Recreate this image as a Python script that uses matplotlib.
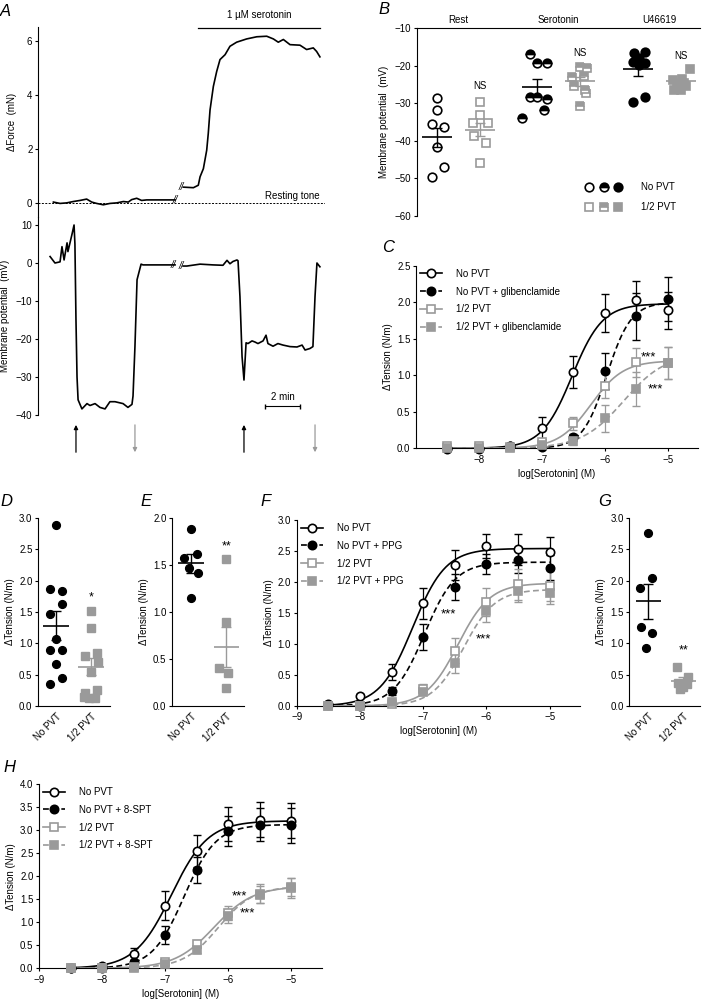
import numpy as np
import matplotlib
matplotlib.use('Agg')
import matplotlib.pyplot as plt
from matplotlib.lines import Line2D

plt.rcParams['font.family'] = ['Liberation Sans', 'DejaVu Sans']
plt.rcParams['font.size'] = 7
plt.rcParams['axes.linewidth'] = 0.8
plt.rcParams['xtick.major.width'] = 0.8
plt.rcParams['ytick.major.width'] = 0.8
plt.rcParams['xtick.major.size'] = 2.5
plt.rcParams['ytick.major.size'] = 2.5
plt.rcParams['xtick.labelsize'] = 7
plt.rcParams['ytick.labelsize'] = 7
plt.rcParams['axes.labelsize'] = 7
plt.rcParams['xtick.major.pad'] = 2
plt.rcParams['ytick.major.pad'] = 1.5

GRAY = '#9a9a9a'
W, H = 702, 1001

# ---------------- Panel A data ----------------
force_t1 = [0.88, 1.26, 1.64, 2.02, 2.40, 2.78, 3.07, 3.35, 3.73, 4.11, 4.50, 4.88, 5.16, 5.35, 5.64, 5.92, 6.21, 7.83]
force_v1 = [0.05, 0.00, 0.02, 0.07, 0.11, 0.16, 0.05, 0.00, -0.05, 0.00, 0.02, 0.07, 0.05, 0.14, 0.19, 0.11, 0.13, 0.13]
force_t2 = [8.30, 8.88, 9.16, 9.26, 9.45, 9.64, 9.73, 9.83, 10.02, 10.21, 10.40, 10.69, 10.97, 11.35, 11.92, 12.50, 13.07,
            13.45, 13.73, 14.02, 14.40, 14.97, 15.35, 15.73, 15.92, 16.11]
force_v2 = [0.60, 0.58, 0.67, 0.98, 1.28, 1.96, 2.58, 3.44, 4.31, 4.86, 5.30, 5.48, 5.79, 5.94, 6.06, 6.14, 6.16,
            6.06, 5.94, 6.04, 5.85, 5.83, 5.67, 5.73, 5.60, 5.40]
mem_t1 = [0.69, 0.97, 1.26, 1.37, 1.49, 1.66, 1.71, 1.94, 2.06, 2.11, 2.17, 2.23, 2.29, 2.51, 2.80, 2.97, 3.26, 3.54, 3.83, 4.11,
          4.40, 4.86, 5.14, 5.37, 5.43, 5.54, 5.66, 5.89, 6.00, 7.83]
mem_v1 = [1.7, 0.0, 0.3, 4.3, 0.8, 5.3, 3.0, 7.5, 10.0, 5.0, -15, -30, -36, -38.4, -37, -37.5, -37, -38, -38.4, -36.5,
          -36.5, -37, -38, -37.2, -35, -22, -4.4, -0.3, -0.5, -0.5]
mem_t2 = [8.29, 8.51, 9.26, 10.0, 10.57, 10.8, 10.97, 11.14, 11.37, 11.43, 11.54, 11.66, 11.77, 11.89, 12.0, 12.23, 12.4, 12.57,
          12.86, 13.03, 13.14, 13.43, 13.71, 14.0, 14.4, 14.8, 15.09, 15.26, 15.54, 15.71, 15.83, 15.94, 16.11]
mem_v2 = [-0.8, -0.8, -0.3, -0.5, -0.6, 0.7, -0.2, 0.4, 0.8, 0.6, -8.8, -24.6, -30.8, -21, -21.2, -20.5, -20.8, -21.2,
          -20.5, -19, -21.2, -21.9, -21.2, -21.6, -22, -22.1, -21.6, -22.9, -22.5, -22, -8.8, 0, -1]
serotonin_on = [9.14, 16.11]
arrows_up = [2.17, 11.77]
arrows_down = [5.54, 15.83]

# ---------------- Panel B data ----------------
b_groups = ['Rest', 'Serotonin', 'U46619']
rest_np = [-28.5, -31.8, -35.5, -36.4, -41.6, -46.9, -49.5]
rest_np_dx = [0, 0, -0.13, 0.16, 0, 0.16, -0.13]
rest_half = [-29.6, -33.1, -35.2, -35.2, -38.7, -40.7, -45.8]
rest_half_dx = [0, 0, -0.17, 0.19, -0.15, 0.14, 0]
sero_np = [-16.9, -19.4, -19.4, -28.3, -28.3, -28.9, -31.9, -34.0]
sero_np_dx = [-0.18, 0, 0.23, -0.18, 0, 0.23, 0.16, -0.35]
sero_half = [-20.3, -20.7, -22.9, -22.8, -25.4, -26.5, -27.4, -30.7]
sero_half_dx = [0, 0.16, -0.19, 0.08, -0.14, 0.12, 0.14, 0]
u_np = [-16.7, -16.3, -18.1, -19.0, -19.2, -19.8, -29.6, -28.4]
u_np_dx = [-0.08, 0.18, 0.02, -0.12, 0.16, 0.02, -0.1, 0.18]
u_half = [-21.0, -23.8, -23.6, -25.2, -25.4, -26.5, -26.5, -24.6]
u_half_dx = [0.21, -0.19, 0.04, -0.08, 0.12, 0, -0.16, 0.08]
b_means = [-39.1, -37.0, -25.8, -24.1, -21.0, -24.2]
b_sems = [2.5, 1.8, 2.2, 1.2, 1.7, 0.7]

# ---------------- Concentration-response data ----------------
conc = [-8.5, -8, -7.5, -7, -6.5, -6, -5.5, -5]
c_np = [0.0, 0.0, 0.03, 0.28, 1.04, 1.85, 2.03, 1.89]
c_np_err = [0.01, 0.01, 0.02, 0.15, 0.22, 0.26, 0.26, 0.25]
c_npg = [-0.01, -0.01, 0.03, 0.02, 0.15, 1.06, 1.81, 2.04]
c_npg_err = [0.01, 0.01, 0.01, 0.02, 0.05, 0.25, 0.32, 0.30]
c_half = [0.03, 0.03, 0.02, 0.08, 0.34, 0.86, 1.18, 1.17]
c_half_err = [0.01, 0.01, 0.01, 0.03, 0.09, 0.17, 0.20, 0.22]
c_halfg = [0.0, 0.0, 0.0, 0.04, 0.10, 0.41, 0.81, 1.17]
c_halfg_err = [0.01, 0.01, 0.01, 0.02, 0.05, 0.18, 0.23, 0.22]
c_fits = [(1.98, -6.52, 1.8), (2.0, -5.97, 2.25), (1.2, -6.22, 1.69), (1.3, -5.7, 1.3)]

f_np = [0.04, 0.16, 0.55, 1.66, 2.27, 2.58, 2.53, 2.48]
f_np_err = [0.02, 0.03, 0.13, 0.25, 0.24, 0.20, 0.25, 0.25]
f_npg = [0.02, 0.0, 0.24, 1.11, 1.92, 2.29, 2.35, 2.23]
f_npg_err = [0.01, 0.01, 0.06, 0.21, 0.21, 0.16, 0.20, 0.20]
f_half = [0.0, 0.0, 0.03, 0.28, 0.89, 1.68, 1.96, 1.94]
f_half_err = [0.01, 0.01, 0.02, 0.07, 0.20, 0.23, 0.25, 0.25]
f_halfg = [0.0, 0.0, 0.06, 0.23, 0.69, 1.53, 1.85, 1.82]
f_halfg_err = [0.01, 0.01, 0.02, 0.06, 0.16, 0.18, 0.18, 0.17]
f_fits = [(2.54, -7.165, 1.67), (2.32, -6.98, 1.78), (1.98, -6.45, 1.71), (1.88, -6.36, 1.75)]

h_np = [0.0, 0.05, 0.31, 1.36, 2.55, 3.13, 3.22, 3.20]
h_np_err = [0.01, 0.02, 0.12, 0.32, 0.35, 0.36, 0.38, 0.38]
h_nps = [0.0, 0.0, 0.14, 0.72, 2.13, 2.98, 3.12, 3.10]
h_nps_err = [0.01, 0.01, 0.04, 0.20, 0.28, 0.33, 0.35, 0.38]
h_half = [0.0, 0.0, 0.02, 0.14, 0.53, 1.20, 1.62, 1.75]
h_half_err = [0.01, 0.01, 0.01, 0.04, 0.08, 0.15, 0.20, 0.22]
h_halfs = [0.0, 0.0, 0.0, 0.10, 0.40, 1.13, 1.60, 1.76]
h_halfs_err = [0.01, 0.01, 0.01, 0.03, 0.07, 0.15, 0.18, 0.20]
h_fits = [(3.2, -6.9, 1.5), (3.12, -6.70, 1.72), (1.78, -6.226, 1.4), (1.78, -6.155, 1.56)]

# ---------------- Dot plot data (D, E, G) ----------------
cats = ['No PVT', '1/2 PVT']
d_np = [2.89, 1.87, 1.84, 1.63, 1.47, 1.07, 0.89, 0.89, 0.67, 0.35, 0.44]
d_np_dx = [0, -0.17, 0.16, 0.16, -0.17, 0, -0.17, 0.16, 0, -0.17, 0.16]
d_half = [1.51, 1.24, 0.79, 0.85, 0.70, 0.55, 0.26, 0.20, 0.13, 0.12, 0.15]
d_half_dx = [0, 0, -0.17, 0.16, 0.19, 0, 0.16, -0.17, -0.05, 0.12, -0.2]
d_means = [1.28, 0.63]
d_sems = [0.23, 0.13]
e_np = [1.88, 1.62, 1.57, 1.47, 1.42, 1.15]
e_np_dx = [0, 0.17, -0.2, -0.05, 0.2, 0]
e_half = [1.56, 0.89, 0.40, 0.35, 0.19]
e_half_dx = [0, 0, -0.2, 0.05, 0]
e_means = [1.52, 0.63]
e_sems = [0.10, 0.21]
g_np = [2.76, 2.05, 1.88, 1.26, 1.16, 0.92]
g_np_dx = [0, 0.11, -0.22, -0.21, 0.11, -0.05]
g_half = [0.62, 0.47, 0.37, 0.35, 0.30, 0.27]
g_half_dx = [-0.19, 0.13, -0.15, 0.1, 0, -0.08]
g_means = [1.67, 0.40]
g_sems = [0.28, 0.06]

fig = plt.figure(figsize=(W / 100, H / 100), dpi=100)


def add_ax(l, t, r, b):
    ax = fig.add_axes([l / W, 1 - b / H, (r - l) / W, (b - t) / H])
    ax.patch.set_alpha(0)
    return ax


def plabel(x, y, s):
    fig.text(x / W, 1 - y / H, s, style='italic', fontsize=12, ha='left', va='center')


def fmt_ticks(vals, pattern):
    return [(pattern % v).replace('-', '\u2212') for v in vals]


def hill(x, top, ec50, h):
    return top / (1 + 10 ** ((ec50 - x) * h))


# ---------------- Panel A ----------------
axf = add_ax(38, 27, 325, 217)
axf.plot(force_t1, force_v1, color='black', lw=1.2)
axf.plot(force_t2, force_v2, color='black', lw=1.2)
axf.axhline(0, color='black', lw=0.7, ls=(0, (2, 1.5)))
axf.set_xlim(0, 16.4)
axf.set_ylim(-0.5, 6.5)
axf.set_yticks([0, 2, 4, 6])
axf.set_xticks([])
for s in ['top', 'right', 'bottom']:
    axf.spines[s].set_visible(False)
axf.set_ylabel('\u0394Force  (mN)')
axf.yaxis.set_label_coords(-0.072, 0.5)
axf.plot(serotonin_on, [6.48, 6.48], color='black', lw=0.9, clip_on=False)
axf.text(np.mean(serotonin_on), 6.75, '1 \u00b5M serotonin', ha='center', va='bottom', fontsize=7)
axf.text(16.11, 0.1, 'Resting tone', ha='right', va='bottom', fontsize=7)
axf.text(7.85, 0.13, '//', ha='center', va='center', fontsize=7, style='italic')
axf.text(8.2, 0.6, '//', ha='center', va='center', fontsize=7, style='italic')

axm = add_ax(38, 217.4, 325, 453)
axm.plot(mem_t1, mem_v1, color='black', lw=1.2)
axm.plot(mem_t2, mem_v2, color='black', lw=1.2)
axm.set_xlim(0, 16.4)
axm.set_ylim(-50, 12)
axm.set_yticks([10, 0, -10, -20, -30, -40])
axm.set_xticks([])
axm.spines['left'].set_bounds(-40, 12)
for s in ['top', 'right', 'bottom']:
    axm.spines[s].set_visible(False)
axm.set_ylabel('Membrane potential  (mV)')
axm.yaxis.set_label_coords(-0.098, 0.58)
axm.text(7.75, -0.5, '//', ha='center', va='center', fontsize=7, style='italic')
axm.text(8.2, -0.8, '//', ha='center', va='center', fontsize=7, style='italic')
for t in arrows_up:
    axm.annotate('', xy=(t, -42.6), xytext=(t, -49.8),
                 arrowprops=dict(arrowstyle='-|>', color='black', lw=0.9, mutation_scale=6, shrinkA=0, shrinkB=0))
for t in arrows_down:
    axm.annotate('', xy=(t, -49.8), xytext=(t, -42.6),
                 arrowprops=dict(arrowstyle='-|>', color=GRAY, lw=0.9, mutation_scale=6, shrinkA=0, shrinkB=0))
axm.errorbar([13.97], [-37.6], xerr=[[1.0], [1.0]], fmt='none', ecolor='black', elinewidth=0.8, capsize=1.8)
axm.text(13.97, -36.6, '2 min', ha='center', va='bottom', fontsize=7)

# ---------------- Panel B ----------------
axb = add_ax(417, 28, 700, 216)
bpos = [0, 1, 2.33, 3.33, 4.67, 5.67]
b_sets = [
    (rest_np, rest_np_dx, 'o', 'white', 'black', 'full', 'white'),
    (rest_half, rest_half_dx, 's', 'white', GRAY, 'full', 'white'),
    (sero_np, sero_np_dx, 'o', 'black', 'black', 'top', 'white'),
    (sero_half, sero_half_dx, 's', GRAY, GRAY, 'top', 'white'),
    (u_np, u_np_dx, 'o', 'black', 'black', 'full', 'black'),
    (u_half, u_half_dx, 's', GRAY, GRAY, 'full', GRAY),
]
for i, (vals, dx, mk, fc, ec, fs, alt) in enumerate(b_sets):
    xs = bpos[i] + np.array(dx)
    axb.plot(xs, vals, ls='none', marker=mk, ms=6.2 if mk == 'o' else 5.6, mfc=fc, mec=ec, mew=1.2,
             fillstyle=fs, markerfacecoloralt=alt, zorder=3)
    axb.hlines(b_means[i], bpos[i] - 0.35, bpos[i] + 0.35, color=ec, lw=1.2, zorder=4)
    axb.errorbar(bpos[i], b_means[i], yerr=b_sems[i], fmt='none', ecolor=ec, elinewidth=1, capsize=3.5, zorder=4)
axb.set_xlim(-0.47, 6.12)
axb.set_ylim(-60, -10)
bt = [-10, -20, -30, -40, -50, -60]
axb.set_yticks(bt)
axb.set_yticklabels(fmt_ticks(bt, '%d'))
axb.set_xticks([])
for s in ['right', 'bottom']:
    axb.spines[s].set_visible(False)
axb.set_ylabel('Membrane potential  (mV)', labelpad=4)
for gi, name in enumerate(b_groups):
    xc = (bpos[2 * gi] + bpos[2 * gi + 1]) / 2
    axb.text(xc, -7.9, name, ha='center', va='center', fontsize=7, clip_on=False)
axb.text(bpos[1], -25.4, 'NS', ha='center', va='center', fontsize=7)
axb.text(bpos[3], -16.6, 'NS', ha='center', va='center', fontsize=7)
axb.text(bpos[5], -17.4, 'NS', ha='center', va='center', fontsize=7)
# legend of panel B
leg_rows = [('o', 'black', 'No PVT', 187), ('s', GRAY, '1/2 PVT', 207)]
for mk, col, lab, yp in leg_rows:
    specs = [('white', 'full', 'white'), (col, 'top', 'white'), (col, 'full', col)]
    for xp, (fc, fs, alt) in zip([589, 604, 618], specs):
        fig.add_artist(Line2D([xp / W], [1 - yp / H], ls='none', marker=mk, ms=6.2 if mk == 'o' else 5.6,
                              mfc=fc, mec=col, mew=1.2, fillstyle=fs, markerfacecoloralt=alt))
    fig.text(641 / W, 1 - yp / H, lab, ha='left', va='center', fontsize=7)


# ---------------- Concentration-response helper ----------------
def crc_panel(ax, series, fits, labels, ylim, yticks, xticks, stars):
    styles = [
        dict(marker='o', mfc='white', mec='black', color='black', ls='-'),
        dict(marker='o', mfc='black', mec='black', color='black', ls=(0, (3.5, 2))),
        dict(marker='s', mfc='white', mec=GRAY, color=GRAY, ls='-'),
        dict(marker='s', mfc=GRAY, mec=GRAY, color=GRAY, ls=(0, (3.5, 2))),
    ]
    xs = np.linspace(-8.5, -5, 300)
    handles = []
    order = [3, 2, 1, 0]
    for i in order:
        vals, errs = series[i]
        st = styles[i]
        top, ec50, hh = fits[i]
        ax.plot(xs, hill(xs, top, ec50, hh), color=st['color'], ls=st['ls'], lw=1.2, zorder=2 + i * 0.1)
        ax.errorbar(conc, vals, yerr=errs, fmt='none', ecolor=st['color'], elinewidth=0.9, capsize=3,
                    zorder=3 + i * 0.1, clip_on=False)
        ax.plot(conc, vals, ls='none', marker=st['marker'], ms=6 if st['marker'] == 'o' else 5.5,
                mfc=st['mfc'], mec=st['mec'], mew=1.2, zorder=4 + i * 0.1, clip_on=False)
    for i in range(4):
        st = styles[i]
        handles.append(Line2D([], [], color=st['color'], ls=st['ls'], lw=1.2, marker=st['marker'],
                              ms=6 if st['marker'] == 'o' else 5.5, mfc=st['mfc'], mec=st['mec'], mew=1.2))
    ax.legend(handles, labels, loc='upper left', bbox_to_anchor=(0.0, 1.005), frameon=False, fontsize=7,
              handlelength=2.3, handletextpad=1.4, labelspacing=0.8, borderaxespad=0)
    ax.set_xlim(-9, -4.52)
    ax.set_ylim(*ylim)
    ax.set_yticks(yticks)
    ax.set_yticklabels(fmt_ticks(yticks, '%.1f'))
    ax.set_xticks(xticks)
    ax.set_xticklabels(fmt_ticks(xticks, '%d'))
    for s in ['top', 'right']:
        ax.spines[s].set_visible(False)
    ax.set_ylabel('\u0394Tension (N/m)', labelpad=3)
    ax.set_xlabel('log[Serotonin] (M)', labelpad=3)
    for (sx, sy) in stars:
        ax.text(sx, sy, '***', ha='center', va='center', fontsize=9.5)


axc = add_ax(416, 265.8, 698, 448.3)
crc_panel(axc, [(c_np, c_np_err), (c_npg, c_npg_err), (c_half, c_half_err), (c_halfg, c_halfg_err)], c_fits,
          ['No PVT', 'No PVT + glibenclamide', '1/2 PVT', '1/2 PVT + glibenclamide'],
          (0, 2.5), [0, 0.5, 1.0, 1.5, 2.0, 2.5], [-8, -7, -6, -5], [(-5.3, 1.25), (-5.2, 0.8)])

axf2 = add_ax(296.7, 520, 580, 706)
crc_panel(axf2, [(f_np, f_np_err), (f_npg, f_npg_err), (f_half, f_half_err), (f_halfg, f_halfg_err)], f_fits,
          ['No PVT', 'No PVT + PPG', '1/2 PVT', '1/2 PVT + PPG'],
          (0, 3.0), [0, 0.5, 1.0, 1.5, 2.0, 2.5, 3.0], [-9, -8, -7, -6, -5], [(-6.6, 1.48), (-6.04, 1.08)])

axh = add_ax(39, 784, 321.7, 968.3)
crc_panel(axh, [(h_np, h_np_err), (h_nps, h_nps_err), (h_half, h_half_err), (h_halfs, h_halfs_err)], h_fits,
          ['No PVT', 'No PVT + 8-SPT', '1/2 PVT', '1/2 PVT + 8-SPT'],
          (0, 4.0), [0, 0.5, 1.0, 1.5, 2.0, 2.5, 3.0, 3.5, 4.0], [-9, -8, -7, -6, -5], [(-5.83, 1.55), (-5.69, 1.19)])


# ---------------- Dot plot helper ----------------
def dot_panel(ax, np_vals, np_dx, half_vals, half_dx, means, sems, ylim, yticks, star, star_y, xlim):
    ax.plot(0 + np.array(np_dx), np_vals, ls='none', marker='o', ms=5.6, mfc='black', mec='black', zorder=3,
            clip_on=False)
    ax.plot(1 + np.array(half_dx), half_vals, ls='none', marker='s', ms=5.2, mfc=GRAY, mec=GRAY, zorder=3,
            clip_on=False)
    for i, col in enumerate(['black', GRAY]):
        ax.hlines(means[i], i - 0.36, i + 0.36, color=col, lw=1.2, zorder=4)
        ax.errorbar(i, means[i], yerr=sems[i], fmt='none', ecolor=col, elinewidth=1, capsize=3.5, zorder=4)
    ax.text(1, star_y, star, ha='center', va='center', fontsize=9)
    ax.set_xlim(*xlim)
    ax.set_ylim(*ylim)
    ax.set_yticks(yticks)
    ax.set_yticklabels(fmt_ticks(yticks, '%.1f'))
    ax.set_xticks([0, 1])
    ax.set_xticklabels(cats, rotation=45, ha='right', rotation_mode='anchor')
    ax.tick_params(axis='x', length=0, pad=4)
    for s in ['top', 'right']:
        ax.spines[s].set_visible(False)
    ax.set_ylabel('\u0394Tension (N/m)', labelpad=3)


axd = add_ax(38, 518, 110, 706)
dot_panel(axd, d_np, d_np_dx, d_half, d_half_dx, d_means, d_sems, (0, 3.0), [0, 0.5, 1.0, 1.5, 2.0, 2.5, 3.0],
          '*', 1.74, (-0.51, 1.54))
axe = add_ax(172, 518, 244, 706)
dot_panel(axe, e_np, e_np_dx, e_half, e_half_dx, e_means, e_sems, (0, 2.0), [0, 0.5, 1.0, 1.5, 2.0],
          '**', 1.7, (-0.54, 1.5))
axg = add_ax(629.3, 518, 700, 706)
dot_panel(axg, g_np, g_np_dx, g_half, g_half_dx, g_means, g_sems, (0, 3.0), [0, 0.5, 1.0, 1.5, 2.0, 2.5, 3.0],
          '**', 0.88, (-0.54, 1.48))

plabel(0, 12, 'A')
plabel(378, 10, 'B')
plabel(382, 248, 'C')
plabel(0, 502, 'D')
plabel(140, 502, 'E')
plabel(260, 502, 'F')
plabel(598, 502, 'G')
plabel(3, 767, 'H')

fig.savefig('out.png', dpi=100)
